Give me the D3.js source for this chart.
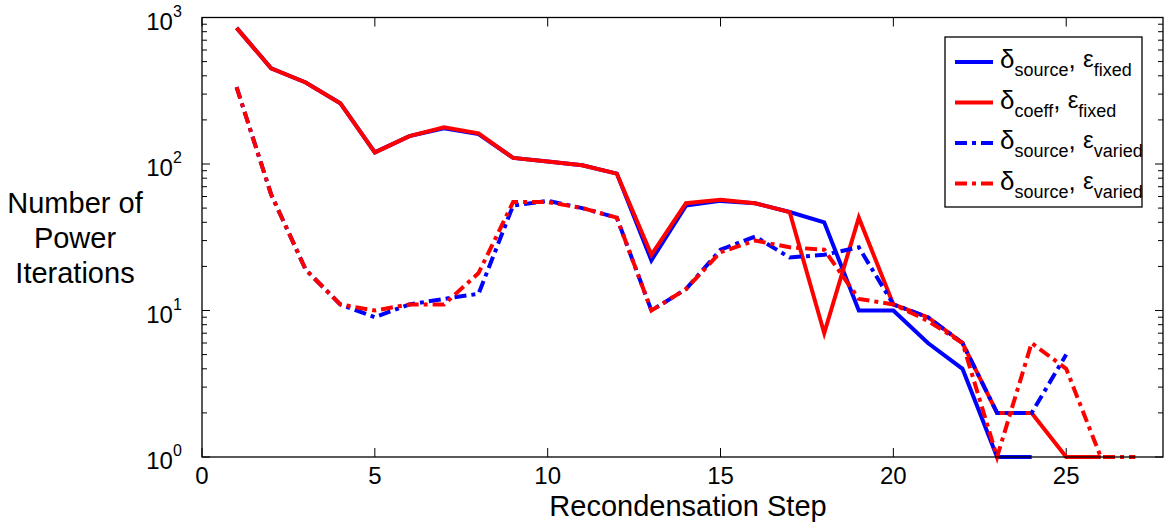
<!DOCTYPE html>
<html lang="en">
<head>
<meta charset="UTF-8">
<title>Power iterations per recondensation step</title>
<style>
  body { margin: 0; background: #fff; }
  svg text { font-family: "Liberation Sans", Arial, sans-serif; fill: #000; }
  .frame { fill: none; stroke: #000; stroke-width: 1.3; }
  .series { fill: none; stroke-width: 4; stroke-linejoin: miter; }
</style>
</head>
<body>
<svg id="chart" width="1170" height="525"></svg>
<script src="https://d3js.org/d3.v7.min.js"></script>
<script>
// iterations per recondensation step
const srcFixedSteps = [1,2,3,4,5,6,7,8,9,10,11,12,13,14,15,16,17,18,19,20,21,22,23,24];
const srcFixed = [850,450,360,260,120,155,175,160,110,104,98,86,22,52,56,54,47,40,10,10,6,4,1,1];

const coeffFixedSteps = [1,2,3,4,5,6,7,8,9,10,11,12,13,14,15,16,17,18,19,20,21,22,23,24,25,26];
const coeffFixed = [850,450,360,260,120,155,178,162,110,104,98,86,24,54,57,54,47,7,43,11,9,6,2,2,1,1];

const srcVariedSteps = [1,2,3,4,5,6,7,8,9,10,11,12,13,14,15,16,17,18,19,20,21,22,23,24,25];
const srcVaried = [335,62,19,11,9,11,12,13,52,56,50,43,10,14,26,32,23,24,27,11,9,6,2,2,5];

const srcVaried2Steps = [1,2,3,4,5,6,7,8,9,10,11,12,13,14,15,16,17,18,19,20,21,22,23,24,25,26,27];
const srcVaried2 = [335,62,19,11,10,11,11,18,55,55,50,43,10,14,25,30,27,26,12,11,8.5,6,1,6,4,1,1];

const xTicks = [0,5,10,15,20,25];
const yDecades = [1,10,100,1000];

const series = [
  { steps: srcFixedSteps, vals: srcFixed, color: "#0000ff", dash: null, d: "source", e: "fixed" },
  { steps: coeffFixedSteps, vals: coeffFixed, color: "#ff0000", dash: null, d: "coeff", e: "fixed" },
  { steps: srcVariedSteps, vals: srcVaried, color: "#0000ff", dash: "12,5,4,5", d: "source", e: "varied" },
  { steps: srcVaried2Steps, vals: srcVaried2, color: "#ff0000", dash: "12,5,4,5", d: "source", e: "varied" }
];

const svg = d3.select("#chart");
const pLeft = 202, pRight = 1163, pTop = 17.5, pBottom = 457;

const x = d3.scaleLinear().domain([0, 27.8]).range([pLeft, pRight]);
const y = d3.scaleLog().domain([1, 1000]).range([pBottom, pTop]);

// minor ticks on the log axis
const minor = [];
yDecades.slice(0, -1).forEach(dec => {
  for (let k = 2; k <= 9; k++) minor.push(dec * k);
});

const tickG = svg.append("g").attr("stroke", "#000").attr("stroke-width", 1);
// left / right ticks (inside)
yDecades.forEach(v => {
  tickG.append("line").attr("x1", pLeft).attr("x2", pLeft + 8).attr("y1", y(v)).attr("y2", y(v));
  tickG.append("line").attr("x1", pRight).attr("x2", pRight - 8).attr("y1", y(v)).attr("y2", y(v));
});
minor.forEach(v => {
  tickG.append("line").attr("x1", pLeft).attr("x2", pLeft + 5).attr("y1", y(v)).attr("y2", y(v));
  tickG.append("line").attr("x1", pRight).attr("x2", pRight - 5).attr("y1", y(v)).attr("y2", y(v));
});
// bottom / top ticks
xTicks.forEach(v => {
  tickG.append("line").attr("x1", x(v)).attr("x2", x(v)).attr("y1", pBottom).attr("y2", pBottom - 9);
  tickG.append("line").attr("x1", x(v)).attr("x2", x(v)).attr("y1", pTop).attr("y2", pTop + 9);
});

// x tick labels
svg.append("g").selectAll("text").data(xTicks).enter().append("text")
  .attr("x", d => x(d)).attr("y", pBottom + 27)
  .attr("text-anchor", "middle").attr("font-size", 24)
  .text(d => d);

// y tick labels: 10^n
const yl = svg.append("g").selectAll("text").data(yDecades).enter().append("text")
  .attr("x", pLeft - 38).attr("y", d => y(d) + 12)
  .attr("text-anchor", "middle").attr("font-size", 24);
yl.append("tspan").text("10");
yl.append("tspan").attr("font-size", 16).attr("dy", -13).text(d => Math.round(Math.log10(d)));

// axis titles
svg.append("text").attr("x", 688).attr("y", 516).attr("text-anchor", "middle")
  .attr("font-size", 29).text("Recondensation Step");
const ytitle = svg.append("text").attr("text-anchor", "middle").attr("font-size", 29);
["Number of", "Power", "Iterations"].forEach((s, i) => {
  ytitle.append("tspan").attr("x", 75).attr("y", 213 + i * 35).text(s);
});

// lines
const line = d3.line().x(d => x(d[0])).y(d => y(d[1]));
series.forEach(s => {
  svg.append("path")
    .datum(s.steps.map((st, i) => [st, s.vals[i]]))
    .attr("class", "series")
    .attr("stroke", s.color)
    .attr("stroke-dasharray", s.dash)
    .attr("d", line);
});

// frame
svg.append("rect").attr("class", "frame")
  .attr("x", pLeft).attr("y", pTop).attr("width", pRight - pLeft).attr("height", pBottom - pTop);

// legend
const lg = svg.append("g");
lg.append("rect").attr("x", 945).attr("y", 37).attr("width", 197).attr("height", 170)
  .attr("fill", "#fff").attr("stroke", "#000").attr("stroke-width", 1.3);
series.forEach((s, i) => {
  const ly = 62 + i * 40.5;
  lg.append("line").attr("x1", 955).attr("x2", 993).attr("y1", ly).attr("y2", ly)
    .attr("stroke", s.color).attr("stroke-width", 4).attr("stroke-dasharray", s.dash);
  const t = lg.append("text").attr("x", 1000).attr("y", ly + 6).attr("font-size", 26);
  t.append("tspan").text("\u03b4");
  t.append("tspan").attr("font-size", 18).attr("dy", 8).text(s.d);
  t.append("tspan").attr("dy", -8).text(", ");
  t.append("tspan").attr("font-size", 24).attr("dy", -1).text("\u03b5");
  t.append("tspan").attr("font-size", 18).attr("dy", 9).text(s.e);
});
</script>
</body>
</html>
